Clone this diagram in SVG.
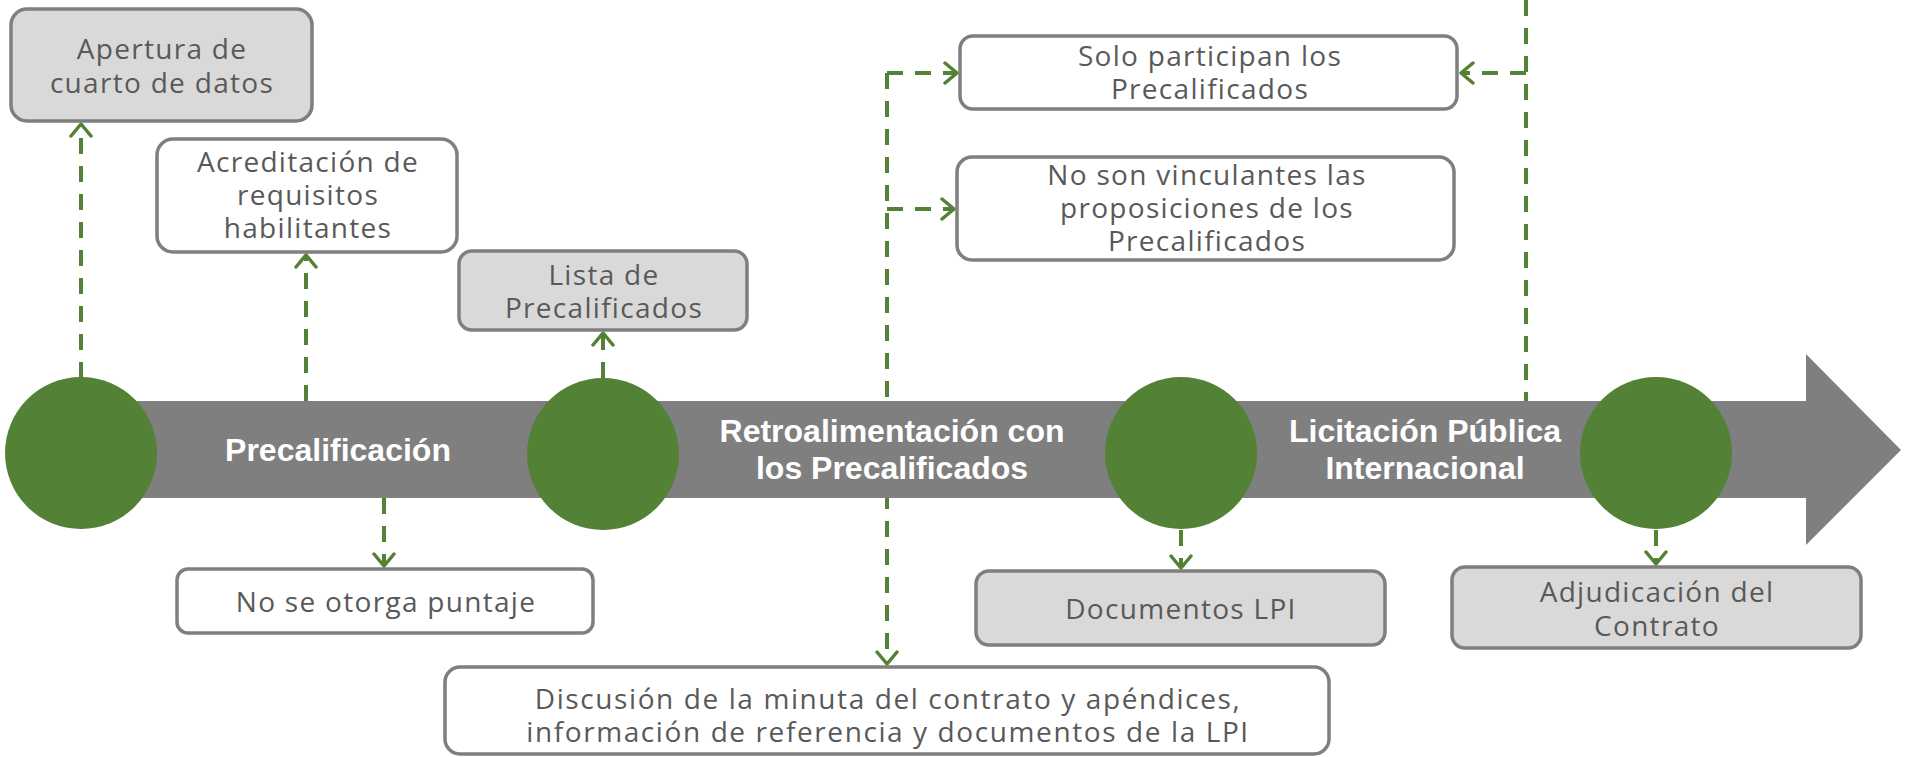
<svg xmlns="http://www.w3.org/2000/svg" width="1905" height="757" viewBox="0 0 1905 757">
<defs>
<style>
.box{stroke:#7f7f7f;stroke-width:3.5}
.g{fill:#d9d9d9}
.w{fill:#ffffff}
.t{font-family:"Open Sans","Liberation Sans",sans-serif;font-size:28px;letter-spacing:1.3px;fill:#595959;text-anchor:middle}
.tw{letter-spacing:1.6px}
.bt{font-family:"Liberation Sans",Arial,sans-serif;font-size:32px;font-weight:bold;fill:#ffffff;text-anchor:middle}
.c{fill:#538135}
.con{fill:none;stroke:#538135;stroke-width:4;stroke-dasharray:16 12}
</style>
<marker id="ah" viewBox="0 0 16 24" refX="14" refY="12" markerWidth="16" markerHeight="24" markerUnits="userSpaceOnUse" orient="auto">
<path d="M2,2 L14,12 L2,22" fill="none" stroke="#538135" stroke-width="3.5" stroke-linecap="round" stroke-linejoin="round"/>
</marker>
</defs>
<rect width="1905" height="757" fill="#ffffff"/>

<g id="connectors">
<path class="con" d="M81,378 V124" marker-end="url(#ah)"/>
<path class="con" d="M306,401 V255" marker-end="url(#ah)"/>
<path class="con" d="M603,378 V333" marker-end="url(#ah)"/>
<path class="con" d="M384,498 V566" marker-end="url(#ah)"/>
<path class="con" d="M887,73 H957" marker-end="url(#ah)"/>
<path class="con" d="M887,73 V664" marker-end="url(#ah)"/>
<path class="con" d="M887,209 H954" marker-end="url(#ah)"/>
<path class="con" d="M1526,0 V401"/>
<path class="con" d="M1526,73 H1461" marker-end="url(#ah)"/>
<path class="con" d="M1181,530 V568" marker-end="url(#ah)"/>
<path class="con" d="M1656,530 V564" marker-end="url(#ah)"/>
</g>

<g id="timeline">
<polygon points="81,401 1806,401 1806,354 1901,450 1806,545 1806,498 81,498" fill="#7f7f7f"/>
</g>

<g id="milestone1"><circle class="c" cx="81" cy="453" r="76"/></g>
<g id="milestone2"><circle class="c" cx="603" cy="454" r="76"/></g>
<g id="milestone3"><circle class="c" cx="1181" cy="453" r="76"/></g>
<g id="milestone4"><circle class="c" cx="1656" cy="453" r="76"/></g>

<g id="phase1"><text class="bt" x="338" y="461">Precalificación</text></g>
<g id="phase2"><text class="bt" x="892" y="442">Retroalimentación con</text><text class="bt" x="892" y="479">los Precalificados</text></g>
<g id="phase3"><text class="bt" x="1425" y="442">Licitación Pública</text><text class="bt" x="1425" y="479">Internacional</text></g>

<g id="boxA">
<rect class="box g" x="11" y="9" width="301" height="112" rx="16"/>
<text class="t" x="162" y="59">Apertura de</text>
<text class="t" x="162" y="93">cuarto de datos</text>
</g>
<g id="boxB">
<rect class="box w" x="157" y="139" width="300" height="113" rx="16"/>
<text class="t" x="308" y="172">Acreditación de</text>
<text class="t" x="308" y="205">requisitos</text>
<text class="t" x="308" y="238">habilitantes</text>
</g>
<g id="boxC">
<rect class="box g" x="459" y="251" width="288" height="79" rx="13"/>
<text class="t" x="604" y="285">Lista de</text>
<text class="t" x="604" y="318">Precalificados</text>
</g>
<g id="boxD">
<rect class="box w" x="960" y="36" width="497" height="73" rx="13"/>
<text class="t" x="1210" y="66">Solo participan los</text>
<text class="t" x="1210" y="99">Precalificados</text>
</g>
<g id="boxE">
<rect class="box w" x="957" y="157" width="497" height="103" rx="15"/>
<text class="t" x="1207" y="185">No son vinculantes las</text>
<text class="t" x="1207" y="218">proposiciones de los</text>
<text class="t" x="1207" y="251">Precalificados</text>
</g>
<g id="boxF">
<rect class="box w" x="177" y="569" width="416" height="64" rx="11"/>
<text class="t" x="386" y="612">No se otorga puntaje</text>
</g>
<g id="boxG">
<rect class="box g" x="976" y="571" width="409" height="74" rx="13"/>
<text class="t" x="1181" y="619">Documentos LPI</text>
</g>
<g id="boxH">
<rect class="box g" x="1452" y="567" width="409" height="81" rx="13"/>
<text class="t" x="1657" y="602">Adjudicación del</text>
<text class="t" x="1657" y="636">Contrato</text>
</g>
<g id="boxI">
<rect class="box w" x="445" y="667" width="884" height="87" rx="15"/>
<text class="t tw" x="888" y="709">Discusión de la minuta del contrato y apéndices,</text>
<text class="t tw" x="888" y="742">información de referencia y documentos de la LPI</text>
</g>
</svg>
